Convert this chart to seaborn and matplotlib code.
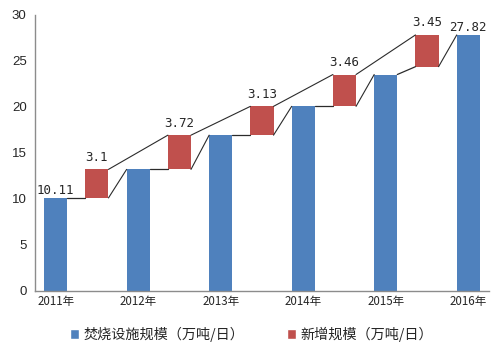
import numpy as np
import pandas as pd
import matplotlib
matplotlib.use('Agg')
import matplotlib.pyplot as plt
import seaborn as sns
from matplotlib.patches import Patch

# data
years = ['2011年', '2012年', '2013年', '2014年', '2015年', '2016年']
capacity = [10.11, 13.21, 16.93, 20.06, 23.52, 27.82]   # 焚烧设施规模
added = [3.1, 3.72, 3.13, 3.46, 3.45]                    # 新增规模
capacity_labels = ['10.11', '', '', '', '', '27.82']
added_labels = ['3.1', '3.72', '3.13', '3.46', '3.45']

blue = '#4F81BD'
red = '#C0504D'
line_color = '#2b2b2b'

sns.set_style('white')
plt.rcParams['font.family'] = ['Liberation Sans', 'DejaVu Sans']

# blue bars sit on even slots, red (floating) bars between them
n_slots = 2 * len(years) - 1
slots = list(range(n_slots))
blue_df = pd.DataFrame({'slot': slots[0::2], 'value': capacity})
red_top = [capacity[i + 1] for i in range(len(added))]
red_bottom = [t - a for t, a in zip(red_top, added)]
red_df = pd.DataFrame({'slot': slots[1::2], 'value': added})

width = 0.56

fig = plt.figure(figsize=(5.03, 3.54), dpi=100)
ax = fig.add_axes([0.0696, 0.178, 0.9024, 0.780])

sns.barplot(data=blue_df, x='slot', y='value', order=slots, color=blue,
            width=width, saturation=1, linewidth=0, edgecolor='none', ax=ax)
sns.barplot(data=red_df, x='slot', y='value', order=slots, color=red,
            width=width, saturation=1, linewidth=0, edgecolor='none',
            bottom=red_bottom, ax=ax)

# connector lines
hw = width / 2
for i in range(len(added)):
    b = 2 * i        # blue bar slot
    r = 2 * i + 1    # red bar slot
    nb = 2 * i + 2   # next blue bar
    # blue top -> red bottom
    ax.plot([b + hw, r - hw], [capacity[i], red_bottom[i]], color=line_color, lw=0.9)
    # red bottom right -> next blue top
    ax.plot([r + hw, nb - hw], [red_bottom[i], capacity[i + 1]], color=line_color, lw=0.8)
    # red top -> next red top
    if i + 1 < len(added):
        ax.plot([r + hw, r + 2 - hw], [red_top[i], red_top[i + 1]], color=line_color, lw=0.8)

# value labels
for i, lab in enumerate(capacity_labels):
    if lab:
        ax.annotate(lab, (2 * i, capacity[i]), xytext=(0, 1), textcoords='offset points',
                    ha='center', va='bottom', fontsize=9, family='DejaVu Sans Mono')
for i, lab in enumerate(added_labels):
    ax.annotate(lab, (2 * i + 1, red_top[i]), xytext=(0, 4), textcoords='offset points',
                ha='center', va='bottom', fontsize=9, family='DejaVu Sans Mono')

ax.set_xlim(-0.5, n_slots - 0.5)
ax.set_ylim(0, 30)
ax.set_yticks(np.arange(0, 31, 5))
ax.tick_params(axis='y', labelsize=9.5, length=0, pad=6)
ax.set_xticks(slots[0::2])
ax.set_xticklabels(years, fontsize=8.3, family=['Noto Sans CJK SC', 'DejaVu Sans'])
ax.tick_params(axis='x', length=0, pad=3)
ax.set_xlabel('')
ax.set_ylabel('')

sns.despine(ax=ax)
for s in ['left', 'bottom']:
    ax.spines[s].set_color('#8c8c8c')
    ax.spines[s].set_linewidth(1.0)

handles = [Patch(facecolor=blue, label='焚烧设施规模（万吨/日）'),
           Patch(facecolor=red, label='新增规模（万吨/日）')]
fig.legend(handles=handles, loc='center', bbox_to_anchor=(0.5, 0.055), ncol=2,
           frameon=False, prop={'family': ['Noto Sans CJK SC', 'DejaVu Sans'], 'size': 10.2},
           handlelength=0.65, handleheight=0.65, handletextpad=0.3, columnspacing=3.0)

fig.savefig('out.png', dpi=100)
